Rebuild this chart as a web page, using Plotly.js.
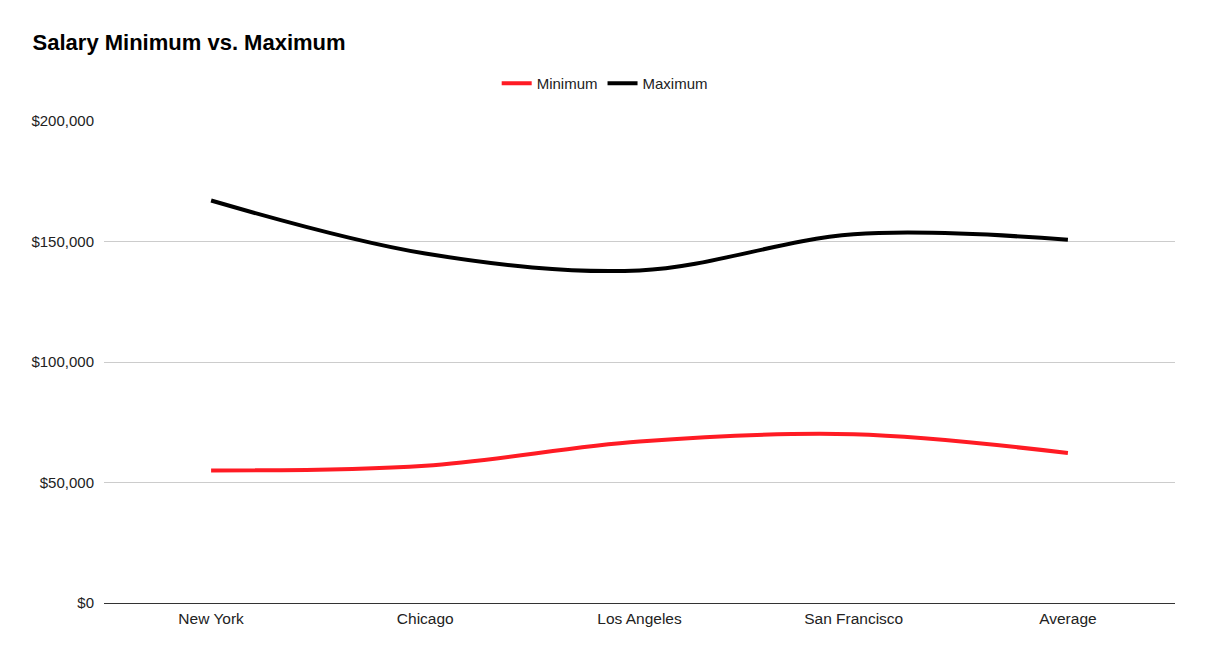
<!DOCTYPE html>
<html>
<head>
<meta charset="utf-8">
<script src="https://cdn.plot.ly/plotly-3.0.1.min.js"></script>
<style>html,body{margin:0;padding:0;background:#fff;}#chart{width:1207px;height:658px;}</style>
</head>
<body>
<div id="chart"></div>
<script>
const categories = ["New York", "Chicago", "Los Angeles", "San Francisco", "Average"];
const minimumValues = [55000, 57000, 67000, 70000, 62250];
const maximumValues = [167000, 145000, 138000, 153000, 150750];
const yTickValues = [0, 50000, 100000, 150000, 200000];
const yTickLabels = ["$0", "$50,000", "$100,000", "$150,000", "$200,000"];

const font = "Arial, 'Liberation Sans', sans-serif";
const traces = [
  {x: categories, y: minimumValues, name: "Minimum", type: "scatter", mode: "lines",
   line: {color: "#ff1b24", width: 4, shape: "spline", smoothing: 1}},
  {x: categories, y: maximumValues, name: "Maximum", type: "scatter", mode: "lines",
   line: {color: "#000000", width: 4, shape: "spline", smoothing: 1}}
];
const layout = {
  width: 1207, height: 658,
  margin: {l: 104, r: 32, t: 121, b: 55},
  paper_bgcolor: "#fff", plot_bgcolor: "#fff",
  font: {family: font, size: 15, color: "#222"},
  title: {text: "<b>Salary Minimum vs. Maximum</b>", x: 0.027, xanchor: "left", y: 0.935, yanchor: "middle",
          font: {family: font, size: 22, color: "#000"}},
  showlegend: true,
  legend: {orientation: "h", x: 0.4675, xanchor: "center", y: 1.078, yanchor: "middle",
           font: {family: font, size: 15, color: "#222"}, itemwidth: 30},
  xaxis: {type: "category", range: [-0.5, 4.5], showgrid: false, showline: true, linecolor: "#333", linewidth: 1,
          ticks: "outside", ticklen: 1, tickcolor: "rgba(0,0,0,0)",
          tickfont: {family: font, size: 15.5, color: "#222"}, fixedrange: true},
  yaxis: {range: [0, 200000], tickvals: yTickValues, ticktext: yTickLabels, showgrid: true,
          gridcolor: "#cccccc", gridwidth: 1, zeroline: false, showline: false,
          ticks: "outside", ticklen: 6, tickcolor: "rgba(0,0,0,0)",
          tickfont: {family: font, size: 15, color: "#222"}, fixedrange: true}
};
Plotly.newPlot("chart", traces, layout, {displayModeBar: false, staticPlot: true});
</script>
</body>
</html>
